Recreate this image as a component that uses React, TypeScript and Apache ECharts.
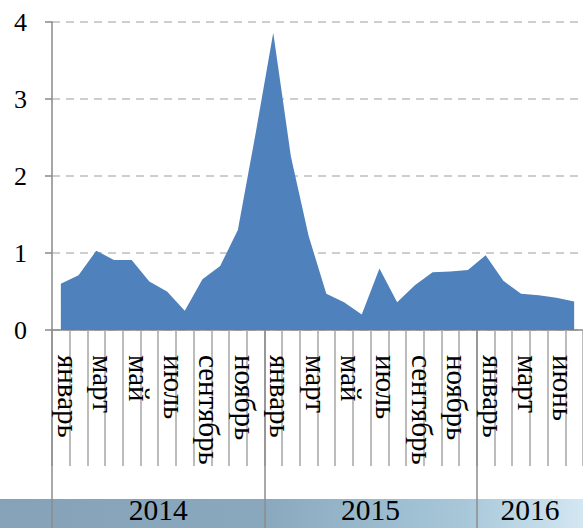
import React, { useEffect, useRef } from "react";
import * as echarts from "echarts";

const months2014 = ["январь", "февраль", "март", "апрель", "май", "июнь", "июль", "август", "сентябрь", "октябрь", "ноябрь", "декабрь"];
const months2015 = ["январь", "февраль", "март", "апрель", "май", "июнь", "июль", "август", "сентябрь", "октябрь", "ноябрь", "декабрь"];
const months2016 = ["январь", "февраль", "март", "апрель", "июнь", "июль"];

const values2014 = [0.6, 0.71, 1.03, 0.91, 0.91, 0.63, 0.5, 0.25, 0.66, 0.83, 1.3, 2.55];
const values2015 = [3.86, 2.25, 1.22, 0.47, 0.36, 0.2, 0.8, 0.36, 0.58, 0.75, 0.76, 0.78];
const values2016 = [0.97, 0.64, 0.47, 0.45, 0.42, 0.37];

const years = ["2014", "2015", "2016"];
const yearStarts = [0, 12, 24];
const yearCentres = [6, 18, 27];
const yTicks = [0, 1, 2, 3, 4];

const FONT = "Liberation Serif";

export default function App() {
  const ref = useRef<HTMLDivElement>(null);
  useEffect(() => {
    if (!ref.current) return;
    const chart = echarts.init(ref.current, undefined, { renderer: "svg" });
    const categories = [...months2014, ...months2015, ...months2016];
    const values = [...values2014, ...values2015, ...values2016];
    const total = categories.length;
    chart.setOption({
      animation: false,
      textStyle: { fontFamily: FONT },
      graphic: [
        {
          type: "rect",
          z: -10,
          shape: { x: 0, y: 499, width: 583, height: 29 },
          style: {
            fill: new echarts.graphic.LinearGradient(0, 0, 1, 0, [
              { offset: 0, color: "#86a2b8" },
              { offset: 0.45, color: "#89a8be" },
              { offset: 0.8, color: "#a8c8da" },
              { offset: 1, color: "#d3e7f2" },
            ]),
          },
        },
      ],
      grid: { left: 52, right: -1.5, top: 22, bottom: 198, containLabel: false },
      xAxis: [
        {
          type: "category",
          data: categories,
          boundaryGap: true,
          axisLine: { show: true, lineStyle: { color: "#898989", width: 1.5 } },
          axisTick: { show: true, interval: 0, length: 136, lineStyle: { color: "#a6a6a6", width: 1.5 } },
          axisLabel: {
            interval: 1,
            rotate: -90,
            margin: 25,
            verticalAlign: "bottom",
            lineHeight: 14,
            fontFamily: FONT,
            fontSize: 29,
            color: "#000",
          },
          splitLine: { show: false },
        },
        {
          type: "value",
          min: 0,
          max: total,
          position: "bottom",
          axisLine: { show: false },
          splitLine: { show: false },
          axisTick: {
            show: true,
            customValues: yearStarts,
            length: 198,
            lineStyle: { color: "#8c8c8c", width: 1.5 },
          },
          axisLabel: {
            customValues: yearCentres,
            formatter: (v: number) => years[yearCentres.indexOf(v)] ?? "",
            margin: 165,
            fontFamily: FONT,
            fontSize: 29.5,
            color: "#000",
          },
        },
      ],
      yAxis: {
        type: "value",
        min: yTicks[0],
        max: yTicks[yTicks.length - 1],
        interval: 1,
        axisLine: { show: true, lineStyle: { color: "#898989", width: 1.5 } },
        axisTick: { show: true, length: 7, lineStyle: { color: "#898989", width: 1.5 } },
        axisLabel: { margin: 25, fontFamily: FONT, fontSize: 26, color: "#000" },
        splitLine: { show: true, lineStyle: { color: "#bfbfbf", type: [8, 6], width: 1.5 } },
      },
      series: [
        {
          type: "line",
          xAxisIndex: 0,
          data: values,
          showSymbol: false,
          symbol: "none",
          lineStyle: { width: 0, color: "#4f81bd" },
          areaStyle: { color: "#4f81bd", opacity: 1 },
          itemStyle: { color: "#4f81bd" },
          z: 3,
        },
      ],
    });
    return () => chart.dispose();
  }, []);
  return <div ref={ref} style={{ position: "absolute", left: 0, top: 0, width: 583, height: 528 }} />;
}
